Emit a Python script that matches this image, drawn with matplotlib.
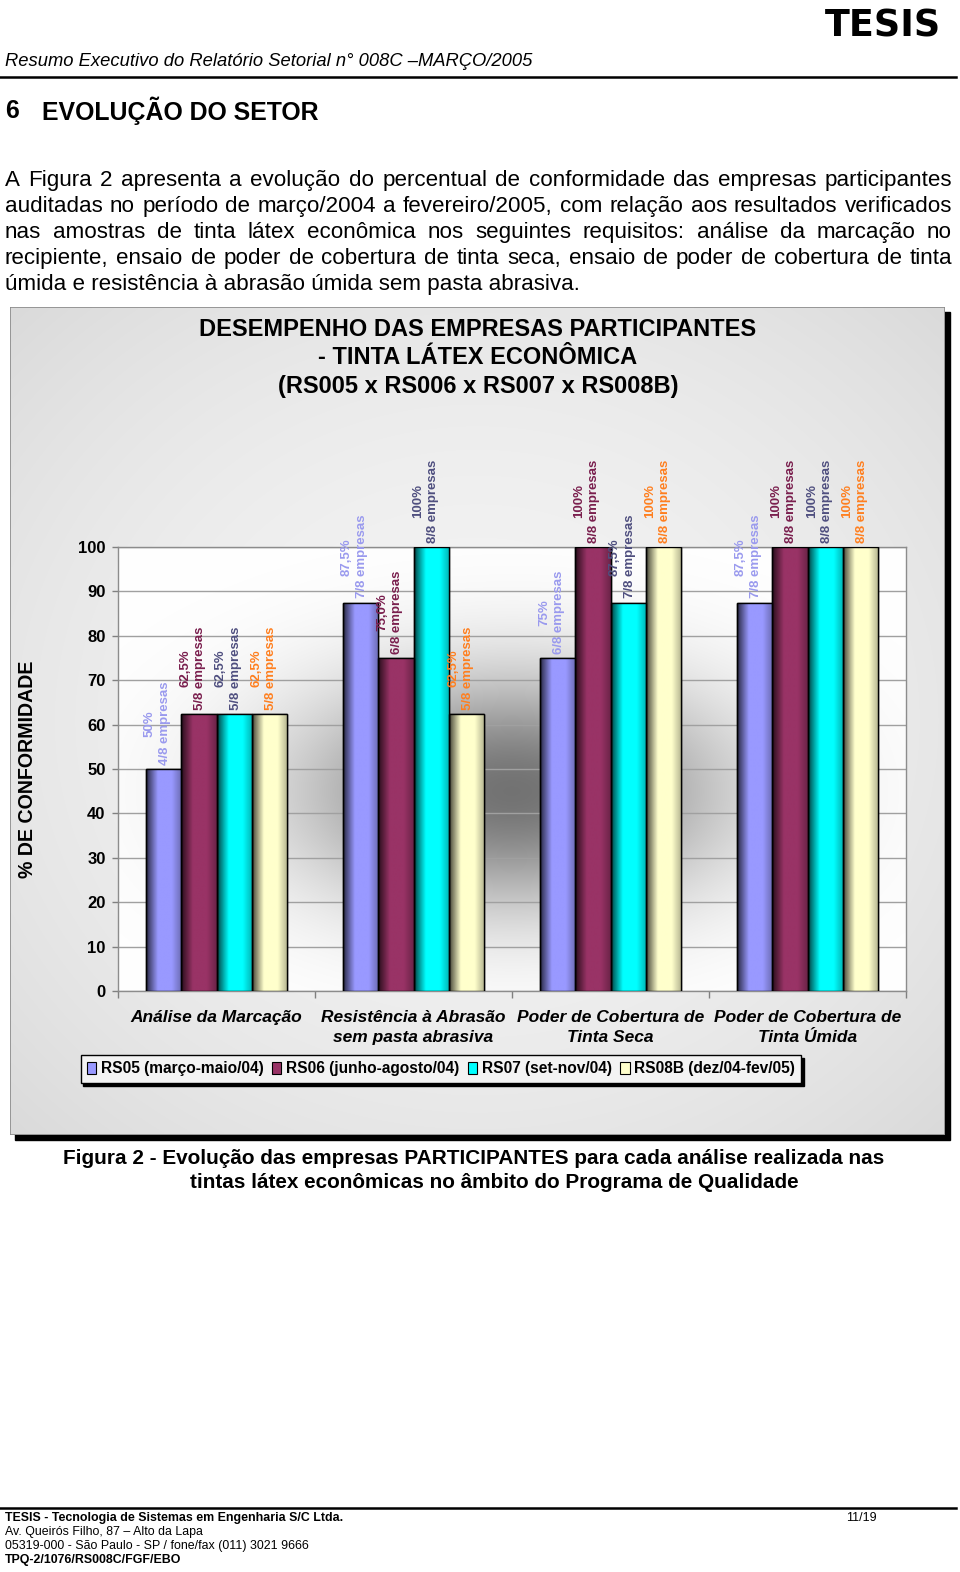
import numpy as np
import matplotlib
matplotlib.use("Agg")
import matplotlib.pyplot as plt
from matplotlib.patches import Rectangle, Patch
from matplotlib.colors import to_rgb
from matplotlib import font_manager as fm

# ---------------- data ----------------
categories = ["Análise da Marcação",
              "Resistência à Abrasão\nsem pasta abrasiva",
              "Poder de Cobertura de\nTinta Seca",
              "Poder de Cobertura de\nTinta Úmida"]
series_names = ["RS05 (março-maio/04)", "RS06 (junho-agosto/04)",
                "RS07 (set-nov/04)", "RS08B (dez/04-fev/05)"]
rs05 = [50, 87.5, 75, 87.5]
rs06 = [62.5, 75, 100, 100]
rs07 = [62.5, 100, 87.5, 100]
rs08b = [62.5, 62.5, 100, 100]
rs05_pct = ["50%", "87,5%", "75%", "87,5%"]
rs06_pct = ["62,5%", "75,0%", "100%", "100%"]
rs07_pct = ["62,5%", "100%", "87,5%", "100%"]
rs08b_pct = ["62,5%", "62,5%", "100%", "100%"]
rs05_n = [4, 7, 6, 7]
rs06_n = [5, 6, 8, 8]
rs07_n = [5, 8, 7, 8]
rs08b_n = [5, 5, 8, 8]
yticks = [0, 10, 20, 30, 40, 50, 60, 70, 80, 90, 100]

bar_colors = ["#9999FF", "#993366", "#00FFFF", "#FFFFCC"]
label_colors = ["#9A9AEE", "#7A1F4E", "#4F4F7F", "#FF7F1F"]

chart_title = ["DESEMPENHO DAS EMPRESAS PARTICIPANTES",
               "- TINTA LÁTEX ECONÔMICA",
               "(RS005 x RS006 x RS007 x RS008B)"]
para_lines = [
    "A Figura 2 apresenta a evolução do percentual de conformidade das empresas participantes",
    "auditadas no período de março/2004 a fevereiro/2005, com relação aos resultados verificados",
    "nas amostras de tinta látex econômica nos seguintes requisitos: análise da marcação no",
    "recipiente, ensaio de poder de cobertura de tinta seca, ensaio de poder de cobertura de tinta",
    "úmida e resistência à abrasão úmida sem pasta abrasiva.",
]
caption = ["Figura 2 - Evolução das empresas PARTICIPANTES para cada análise realizada nas",
           "tintas látex econômicas no âmbito do Programa de Qualidade"]
footer = ["TESIS - Tecnologia de Sistemas em Engenharia S/C Ltda.",
          "Av. Queirós Filho, 87 – Alto da Lapa",
          "05319-000 - São Paulo - SP / fone/fax (011) 3021 9666",
          "TPQ-2/1076/RS008C/FGF/EBO"]

values = [rs05, rs06, rs07, rs08b]
pcts = [rs05_pct, rs06_pct, rs07_pct, rs08b_pct]
counts = [rs05_n, rs06_n, rs07_n, rs08b_n]

# ---------------- figure ----------------
W, H = 960, 1572
plt.rcParams["font.family"] = ["Liberation Sans", "DejaVu Sans"]
_names = {f.name for f in fm.fontManager.ttflist}
NARROW = "Liberation Sans Narrow" if "Liberation Sans Narrow" in _names else "Liberation Sans"

fig = plt.figure(figsize=(W / 100, H / 100), dpi=100)
fig.patch.set_facecolor("white")
renderer = fig.canvas.get_renderer()


def fx(x):
    return x / W


def fy(y):
    return 1 - y / H


def measure(s, **kw):
    t = fig.text(0, 0, s, **kw)
    w = t.get_window_extent(renderer).width
    t.remove()
    return w


def fit_size(s, width, size0=12, **kw):
    return size0 * width / measure(s, fontsize=size0, **kw)


# header / logo
s = fit_size("TESIS", 116, family="DejaVu Sans", weight="heavy")
fig.text(fx(825), fy(26), "TESIS", fontsize=s, family="DejaVu Sans",
         weight="heavy", ha="left", va="center")
hdr = "Resumo Executivo do Relatório Setorial n° 008C –MARÇO/2005"
s = fit_size(hdr, 527, style="italic", family=NARROW)
fig.text(fx(5), fy(62), hdr, fontsize=s, style="italic", family=NARROW,
         ha="left", va="center")
fig.add_artist(plt.Line2D([0, fx(956)], [fy(77), fy(77)], color="black", lw=1.8))

s = fit_size("EVOLUÇÃO DO SETOR", 276, weight="bold", family=NARROW)
fig.text(fx(5), fy(111), "6", fontsize=s, weight="bold", family=NARROW,
         ha="left", va="center")
fig.text(fx(42), fy(111), "EVOLUÇÃO DO SETOR", fontsize=s, weight="bold",
         family=NARROW, ha="left", va="center")

# paragraph (justified)
L, R = 5, 952
psize = fit_size(para_lines[-1], 575)
for ln in para_lines[:-1]:
    wds = ln.split(" ")
    tot = sum(measure(w, fontsize=psize) for w in wds)
    sp = measure("a a", fontsize=psize) - 2 * measure("a", fontsize=psize)
    need = tot + 0.8 * sp * (len(wds) - 1)
    if need > R - L:
        psize *= (R - L) / need
baselines = [186, 212, 238, 264, 290]
for i, ln in enumerate(para_lines):
    wds = ln.split(" ")
    if i < len(para_lines) - 1:
        ws = [measure(w, fontsize=psize) for w in wds]
        gap = (R - L - sum(ws)) / (len(wds) - 1)
        x = L
        for w, wd in zip(wds, ws):
            fig.text(fx(x), fy(baselines[i]), w, fontsize=psize, ha="left", va="baseline")
            x += wd + gap
    else:
        fig.text(fx(L), fy(baselines[i]), ln, fontsize=psize, ha="left", va="baseline")

# ---------------- chart box ----------------
bx0, by0, bx1, by1 = 10, 307, 945, 1135
fig.add_artist(Rectangle((fx(bx0 + 5), fy(by1 + 5)), (bx1 - bx0) / W, (by1 - by0) / H,
                         transform=fig.transFigure, color="black", zorder=-3))
bgax = fig.add_axes([fx(bx0), fy(by1), (bx1 - bx0) / W, (by1 - by0) / H], zorder=-2)
gu, gv = np.meshgrid(np.linspace(-1, 1, 200), np.linspace(-1, 1, 200))
bgv = 0.955 - 0.05 * (gu ** 2 + gv ** 2)
bgax.imshow(np.dstack([bgv] * 3), extent=[0, 1, 0, 1], aspect="auto", interpolation="bilinear")
bgax.add_patch(Rectangle((0, 0), 1, 1, transform=bgax.transAxes, fill=False,
                         edgecolor="#8a8a8a", lw=1.2))
bgax.set_axis_off()

tsize = fit_size(chart_title[0], 557, weight="bold")
for i, (ln, yc) in enumerate(zip(chart_title, [329, 358, 387])):
    fig.text(fx(478), fy(yc), ln, fontsize=tsize, weight="bold", ha="center", va="center")

# main axes
px0, py0, px1, py1 = 118, 547, 906, 991
ax = fig.add_axes([fx(px0), fy(py1), (px1 - px0) / W, (py1 - py0) / H], zorder=0)
ax.set_facecolor("white")

# plot-area gradient (dark in the centre, white at the edges)
uu, ww = np.meshgrid(np.linspace(0, 1, 300), np.linspace(0, 1, 300))
pv = 1 - 0.55 * np.exp(-((uu - 0.5) / 0.27) ** 2 - ((ww - 0.45) / 0.26) ** 2)
ax.imshow(np.dstack([pv] * 3), extent=[-0.5, 3.5, 0, 100], origin="lower",
          aspect="auto", interpolation="bilinear", zorder=0)

x = np.arange(len(categories))
bw = 0.18
t = np.linspace(0, 1, 80)
prof = np.interp(t, [0, 0.06, 0.33, 0.72, 1.0], [0.12, 0.4, 1.0, 1.0, 0.7])
for k in range(4):
    pos = x + (k - 1.5) * bw
    bars = ax.bar(pos, values[k], bw, color=bar_colors[k], edgecolor="black",
                  lw=1.0, zorder=3)
    base = np.array(to_rgb(bar_colors[k]))
    grad = (prof[:, None] * base[None, :])[None, :, :]
    for b in bars:
        im = ax.imshow(grad, extent=[b.get_x(), b.get_x() + b.get_width(), 0, b.get_height()],
                       aspect="auto", interpolation="bilinear", zorder=3.5)
        im.set_clip_path(b)
    ax.bar(pos, values[k], bw, fill=False, edgecolor="black", lw=1.0, zorder=4)
    for xi, v, p, n in zip(pos, values[k], pcts[k], counts[k]):
        ax.annotate(f"{p}\n{n}/8 empresas", xy=(xi, v), xytext=(-6, 4),
                    textcoords="offset pixels", rotation=90, ha="center", va="bottom",
                    multialignment="center", linespacing=1.3, fontsize=9.5,
                    fontweight="bold", color=label_colors[k], annotation_clip=False,
                    zorder=6)

ax.set_xlim(-0.5, 3.5)
ax.set_ylim(0, 100)
ax.set_yticks(yticks)
ax.set_yticklabels([str(v) for v in yticks], fontsize=12, fontweight="bold")
ax.yaxis.grid(True, color="#a0a0a0", lw=1)
ax.set_axisbelow(True)
ax.tick_params(axis="y", length=4, pad=5, color="#808080", width=1)
ax.set_xticks(x)
ax.set_xticklabels(categories, fontsize=12.5, fontweight="bold", fontstyle="italic",
                   linespacing=1.4)
ax.set_xticks(np.arange(-0.5, 4, 1), minor=True)
ax.tick_params(axis="x", which="major", length=0, pad=14)
ax.tick_params(axis="x", which="minor", length=5, color="#808080", width=1)
for sp in ax.spines.values():
    sp.set_color("#8c8c8c")
    sp.set_linewidth(1)

ysize = fit_size("% DE CONFORMIDADE", 218, weight="bold")
fig.text(fx(28), fy(769), "% DE CONFORMIDADE", fontsize=ysize, weight="bold",
         rotation=90, ha="center", va="center")

handles = [Patch(facecolor=c, edgecolor="black", lw=0.8) for c in bar_colors]
fig.legend(handles, series_names, ncol=4, loc="center",
           bbox_to_anchor=(fx(441), fy(1069)),
           prop={"weight": "bold", "size": 11.2}, handlelength=0.6, handleheight=0.75,
           handletextpad=0.3, columnspacing=0.55, borderpad=0.4, frameon=True,
           fancybox=False, edgecolor="black", facecolor="#f3f3f3", framealpha=1,
           shadow={"color": "black", "alpha": 1})

# caption
csize = fit_size(caption[0], 818, weight="bold")
fig.text(fx(63), fy(1158), caption[0], fontsize=csize, weight="bold", ha="left", va="center")
fig.text(fx(190), fy(1182), caption[1], fontsize=csize, weight="bold", ha="left", va="center")

# footer
fig.add_artist(plt.Line2D([0, fx(956)], [fy(1508), fy(1508)], color="black", lw=1.8))
fsize = fit_size(footer[0], 335, weight="bold", family=NARROW)
for i, (ln, yc) in enumerate(zip(footer, [1518, 1532, 1546, 1560])):
    wt = "bold" if i in (0, 3) else "normal"
    fig.text(fx(5), fy(yc), ln, fontsize=fsize, weight=wt, family=NARROW,
             ha="left", va="center")
fig.text(fx(846), fy(1518), "11/19", fontsize=fsize, family=NARROW, ha="left", va="center")

fig.savefig("out.png", dpi=100)
